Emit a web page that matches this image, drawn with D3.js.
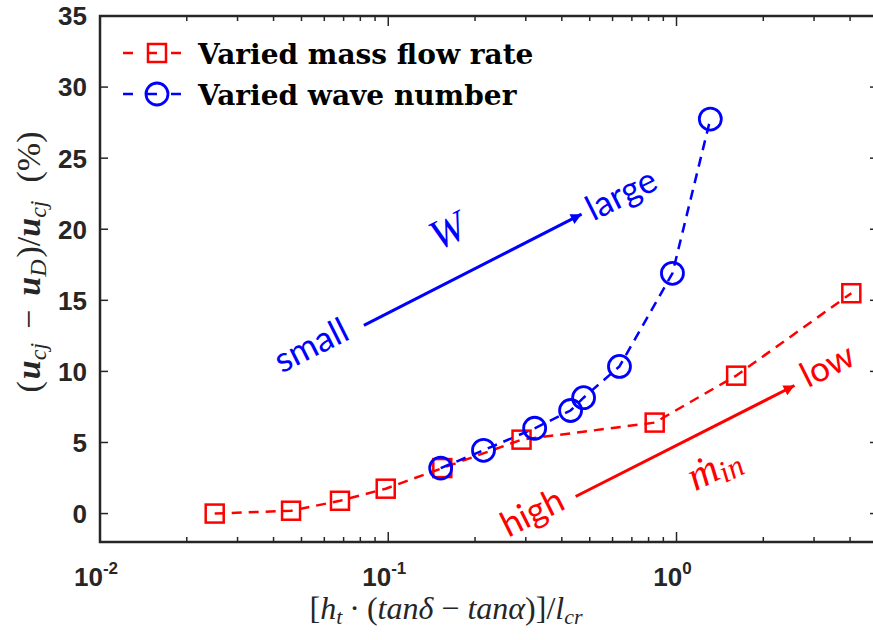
<!DOCTYPE html>
<html><head><meta charset="utf-8">
<script src="https://cdn.jsdelivr.net/npm/d3@7"></script>
<style>body{margin:0;background:#fff}svg{display:block}</style>
</head><body>
<svg id="c" width="873" height="640"></svg>
<script>
const redX = [0.025, 0.046, 0.068, 0.098, 0.154, 0.29, 0.84, 1.61, 4.04];
const redY = [0, 0.2, 0.9, 1.75, 3.2, 5.2, 6.4, 9.7, 15.5];
const blueX = [0.152, 0.214, 0.322, 0.429, 0.476, 0.634, 0.968, 1.31];
const blueY = [3.2, 4.45, 6.0, 7.25, 8.15, 10.35, 16.9, 27.75];
const yTicks = [0, 5, 10, 15, 20, 25, 30, 35];
const xMajor = [0.01, 0.1, 1];
const xTickExp = ["-2", "-1", "0"];
const legendNames = ["Varied mass flow rate", "Varied wave number"];
// annotation arrows in data space
const arrowBlue = [[0.0823, 13.24], [0.4685, 21.06]];
const arrowRed = [[0.4467, 1.2], [2.566, 9.01]];

const svg = d3.select("#c");
const L = 100, R = 878, T = 16, B = 542;
const x = d3.scaleLog().domain([0.01, 5]).range([L, R]);
const y = d3.scaleLinear().domain([-2, 35]).range([B, T]);
const ax = "#262626", RED = "#ff0000", BLUE = "#0000ff";

const defs = svg.append("defs");
[["ahB", BLUE], ["ahR", RED]].forEach(([id, c]) => {
  defs.append("marker").attr("id", id).attr("viewBox", "0 0 10 10").attr("refX", 10).attr("refY", 5)
    .attr("markerWidth", 5.2).attr("markerHeight", 3.6).attr("markerUnits", "strokeWidth").attr("orient", "auto")
    .append("path").attr("d", "M0,0L10,5L0,10Z").attr("fill", c);
});

const plot = svg.append("g");
// ticks
const minor = [];
for (let e = -2; e <= 0; e++) for (let k = 2; k <= 9; k++) { const v = k * Math.pow(10, e); if (v <= 5) minor.push(v); }
const tg = svg.append("g").attr("stroke", ax).attr("stroke-width", 1.5);
minor.forEach(v => {
  tg.append("line").attr("x1", x(v)).attr("x2", x(v)).attr("y1", B).attr("y2", B - 5);
  tg.append("line").attr("x1", x(v)).attr("x2", x(v)).attr("y1", T).attr("y2", T + 5);
});
xMajor.forEach(v => {
  tg.append("line").attr("x1", x(v)).attr("x2", x(v)).attr("y1", B).attr("y2", B - 10);
  tg.append("line").attr("x1", x(v)).attr("x2", x(v)).attr("y1", T).attr("y2", T + 10);
});
yTicks.forEach(v => {
  tg.append("line").attr("x1", L).attr("x2", L + 8).attr("y1", y(v)).attr("y2", y(v));
  tg.append("line").attr("x1", R).attr("x2", R - 8).attr("y1", y(v)).attr("y2", y(v));
});
svg.append("rect").attr("x", L).attr("y", T).attr("width", R - L).attr("height", B - T)
  .attr("fill", "none").attr("stroke", ax).attr("stroke-width", 2.5);

// tick labels
const tf = "'Liberation Sans', Arial, sans-serif";
yTicks.forEach(v => {
  svg.append("text").attr("x", L - 13).attr("y", y(v)).attr("dy", "0.36em").attr("text-anchor", "end")
    .attr("font-family", tf).attr("font-weight", "bold").attr("font-size", 26).attr("fill", ax).text(v);
});
xMajor.forEach((v, i) => {
  const t = svg.append("text").attr("x", x(v) - 4).attr("y", 586).attr("text-anchor", "middle")
    .attr("font-family", tf).attr("font-weight", "bold").attr("font-size", 26).attr("fill", ax);
  t.append("tspan").text("10");
  t.append("tspan").attr("dy", -12).attr("font-size", 17).text(xTickExp[i]);
});

// data lines
const line = d3.line().x(d => x(d[0])).y(d => y(d[1]));
const redD = redX.map((v, i) => [v, redY[i]]);
const blueD = blueX.map((v, i) => [v, blueY[i]]);
plot.append("path").datum(redD).attr("d", line).attr("fill", "none").attr("stroke", RED).attr("stroke-width", 2.5).attr("stroke-dasharray", "10,7");
plot.append("path").datum(blueD).attr("d", line).attr("fill", "none").attr("stroke", BLUE).attr("stroke-width", 2.5).attr("stroke-dasharray", "10,7");
plot.selectAll(".sq").data(redD).enter().append("rect").attr("x", d => x(d[0]) - 9).attr("y", d => y(d[1]) - 9)
  .attr("width", 18).attr("height", 18).attr("fill", "none").attr("stroke", RED).attr("stroke-width", 2.5);
plot.selectAll(".ci").data(blueD).enter().append("circle").attr("cx", d => x(d[0])).attr("cy", d => y(d[1]))
  .attr("r", 11).attr("fill", "none").attr("stroke", BLUE).attr("stroke-width", 2.8);

// legend
const lg = svg.append("g");
[[RED, 53, "sq"], [BLUE, 94, "ci"]].forEach(([c, ly, m], i) => {
  lg.append("line").attr("x1", 123).attr("x2", 190).attr("y1", ly).attr("y2", ly).attr("stroke", c).attr("stroke-width", 2.5).attr("stroke-dasharray", "10,14");
  if (m === "sq") lg.append("rect").attr("x", 148).attr("y", ly - 9).attr("width", 18).attr("height", 18).attr("fill", "none").attr("stroke", c).attr("stroke-width", 2.5);
  else lg.append("circle").attr("cx", 157).attr("cy", ly).attr("r", 11).attr("fill", "none").attr("stroke", c).attr("stroke-width", 2.8);
  lg.append("text").attr("x", 198).attr("y", ly + 11).attr("font-family", "'DejaVu Serif', serif").attr("font-weight", "bold")
    .attr("font-size", 28).attr("fill", "#000").text(legendNames[i]);
});

// arrows
[[arrowBlue, BLUE, "ahB"], [arrowRed, RED, "ahR"]].forEach(([a, c, id]) => {
  svg.append("line").attr("x1", x(a[0][0])).attr("y1", y(a[0][1])).attr("x2", x(a[1][0])).attr("y2", y(a[1][1]))
    .attr("stroke", c).attr("stroke-width", 3).attr("marker-end", `url(#${id})`);
});
const ang = -26.6;
const sf = "Lato, 'Open Sans', sans-serif", mf = "'Liberation Serif', serif";
function lab(px, py, txt, c, fam, size, italic) {
  return svg.append("text").attr("transform", `translate(${px},${py}) rotate(${ang})`).attr("text-anchor", "middle")
    .attr("dy", "0.35em").attr("font-family", fam).attr("font-size", size).attr("font-style", italic ? "italic" : "normal")
    .attr("fill", c).text(txt);
}
lab(311, 345, "small", BLUE, sf, 35, false);
lab(621, 194, "large", BLUE, sf, 35, false);
lab(447, 230, "W", BLUE, mf, 42, true);
lab(532, 512, "high", RED, sf, 35, false);
lab(827, 365, "low", RED, sf, 35, false);
const mt = svg.append("text").attr("transform", `translate(714,468) rotate(${ang})`).attr("text-anchor", "middle").attr("dy", "0.3em")
  .attr("font-family", mf).attr("font-style", "italic").attr("font-size", 42).attr("fill", RED);
mt.append("tspan").text("ṁ");
mt.append("tspan").attr("font-size", 31).attr("dy", 6).text("in");

// axis titles
const xt = svg.append("text").attr("x", 446).attr("y", 619).attr("text-anchor", "middle").attr("font-family", mf).attr("font-size", 32).attr("fill", ax);
xt.append("tspan").text("[");
xt.append("tspan").attr("font-style", "italic").text("h");
xt.append("tspan").attr("font-style", "italic").attr("font-size", 22).attr("dy", 5).text("t");
xt.append("tspan").attr("dy", -5).attr("dx", 7).text("·");
xt.append("tspan").attr("dx", 7).text("(");
xt.append("tspan").attr("font-style", "italic").text("tanδ");
xt.append("tspan").attr("dx", 8).text("−");
xt.append("tspan").attr("dx", 8).attr("font-style", "italic").text("tanα");
xt.append("tspan").text(")]/");
xt.append("tspan").attr("font-style", "italic").text("l");
xt.append("tspan").attr("font-style", "italic").attr("font-size", 22).attr("dy", 5).text("cr");

const yt = svg.append("text").attr("transform", "translate(40,262) rotate(-90)").attr("text-anchor", "middle").attr("font-family", mf).attr("font-size", 34).attr("fill", ax);
yt.append("tspan").text("(");
yt.append("tspan").attr("dx", 2).attr("font-style", "italic").attr("font-weight", "bold").text("u");
yt.append("tspan").attr("font-style", "italic").attr("font-size", 24).attr("dy", 6).text("cj");
yt.append("tspan").attr("dy", -6).attr("dx", 14).text("−");
yt.append("tspan").attr("dx", 14).attr("font-style", "italic").attr("font-weight", "bold").text("u");
yt.append("tspan").attr("font-style", "italic").attr("font-size", 24).attr("dy", 6).text("D");
yt.append("tspan").attr("dy", -6).attr("dx", 2).text(")/");
yt.append("tspan").attr("font-style", "italic").attr("font-weight", "bold").text("u");
yt.append("tspan").attr("font-style", "italic").attr("font-size", 24).attr("dy", 6).text("cj");
yt.append("tspan").attr("dy", -6).attr("dx", 18).text("(%)");
</script>
</body></html>
